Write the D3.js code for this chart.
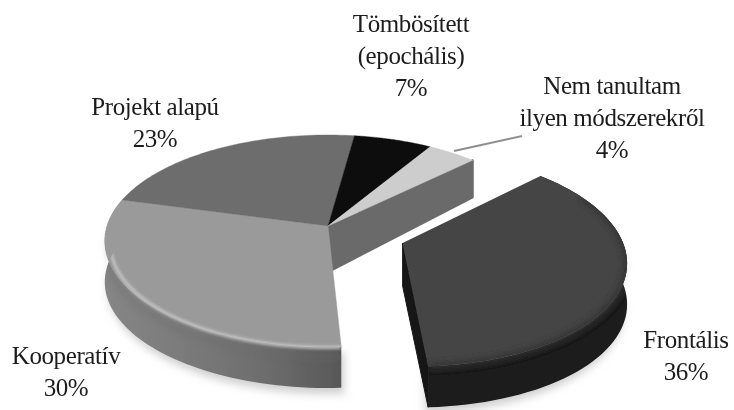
<!DOCTYPE html>
<html><head><meta charset="utf-8">
<script src="https://cdn.jsdelivr.net/npm/d3@7"></script>
<style>html,body{margin:0;padding:0;background:#fff}svg{display:block}text{font-family:"Liberation Serif",serif;font-size:25px;letter-spacing:-0.4px;fill:#1c1c1c;text-anchor:middle}</style>
</head><body><svg id="c" width="734" height="410"></svg>
<script>
const categories=["Frontális","Kooperatív","Projekt alapú","Tömbösített (epochális)","Nem tanultam ilyen módszerekről"];
const values=[36.4,30,23,6.5,4.1];
const topColors=["#454545","#9a9a9a","#6d6d6d","#111111","#cdcdcd"];
const labelLines=[["Frontális","36%"],["Kooperatív","30%"],["Projekt alapú","23%"],["Tömbösített","(epochális)","7%"],["Nem tanultam","ilyen módszerekről","4%"]];
const labelAnchors=[[686,348],[66,364],[155,115],[411,32],[612,94]];
const lineStep=32;

const ox=328,oy=226,Rx=221,Ry=103.9,k=0.1415,depth=41;
const explode=[0.33,0.16],frontScale=0.975;
const svg=d3.select("#c");
const defs=svg.append("defs");
const blur=(id,s)=>defs.append("filter").attr("id",id).attr("x","-20%").attr("y","-20%").attr("width","140%").attr("height","140%").append("feGaussianBlur").attr("stdDeviation",s);
blur("b5",4);blur("b2",1.8);blur("b3",3.2);blur("soft",0.5);
const g=defs.append("linearGradient").attr("id","koopWall").attr("gradientUnits","userSpaceOnUse").attr("x1",105).attr("x2",340).attr("y1",0).attr("y2",0);
[[0,"#868686"],[0.35,"#7a7a7a"],[0.7,"#6c6c6c"],[1,"#585858"]].forEach(s=>g.append("stop").attr("offset",s[0]).attr("stop-color",s[1]));

const startAngle=46*Math.PI/180;
const arcs=d3.pie().sort(null).value(d=>d).startAngle(startAngle).endAngle(startAngle+2*Math.PI)(values);
const proj=(a,r,e,dz=0)=>{const x=r*Math.sin(a)+e[0],y=-r*Math.cos(a)+e[1],w=1-k*y;return [ox+Rx*x/w,oy+Ry*y/w+dz];};
const samples=(a0,a1)=>d3.range(0,61).map(i=>a0+(a1-a0)*i/60);
const line=d3.line();
const arcPts=(a0,a1,e,r=1,dz=0)=>samples(a0,a1).map(a=>proj(a,r,e,dz));
const sector=(d,e,r=1)=>line([proj(0,0,e),...arcPts(d.startAngle,d.endAngle,e,r)])+"Z";
const wall=(a0,a1,e,r=1)=>line([...arcPts(a0,a1,e,r),...arcPts(a0,a1,e,r,depth).reverse()])+"Z";
const root=svg.append("g").attr("filter","url(#soft)");

const e0=[0,0],e1=explode;
const [front,koop,,,nem]=arcs;
root.append("path").attr("d",wall(koop.startAngle,koop.endAngle,e0)).attr("transform","translate(3,6)").attr("fill","#cfcfcf").attr("filter","url(#b5)");
root.append("path").attr("d",wall(front.startAngle,front.endAngle,e1,frontScale)).attr("transform","translate(-3,6)").attr("fill","#cfcfcf").attr("filter","url(#b5)");

const ap=proj(0,0,e0),pn=proj(nem.endAngle,1,e0);
root.append("path").attr("d",line([ap,pn,[pn[0],pn[1]+depth-4],[ap[0]+4,ap[1]+depth+3]])+"Z").attr("fill","#6a6a6a").attr("stroke","#6a6a6a").attr("stroke-width",2).attr("stroke-linejoin","round");

const clipK=defs.append("clipPath").attr("id","clipK");
clipK.append("path").attr("d",wall(koop.startAngle,koop.endAngle,e0));
clipK.append("path").attr("d",sector(koop,e0));
root.append("path").attr("d",wall(koop.startAngle,koop.endAngle,e0)).attr("fill","url(#koopWall)");
root.selectAll("path.top").data(arcs.slice(1)).join("path").attr("class","top").attr("d",d=>sector(d,e0)).attr("fill",(d,i)=>topColors[i+1]).attr("stroke",(d,i)=>topColors[i+1]).attr("stroke-width",0.4);
const kg=root.append("g").attr("clip-path","url(#clipK)");
const hiEnd=koop.endAngle-0.3;
kg.append("path").attr("d",line(arcPts(koop.startAngle,hiEnd,e0,0.99,11))).attr("fill","none").attr("stroke","#6a6a6a").attr("stroke-width",6).attr("opacity",0.35).attr("filter","url(#b3)");
kg.append("path").attr("d",line(arcPts(koop.startAngle,hiEnd,e0,0.975,4))).attr("fill","none").attr("stroke","#c8c8c8").attr("stroke-width",3).attr("filter","url(#b2)");

const fp=proj(0,0,e1),fb=proj(front.endAngle,frontScale,e1);
root.append("path").attr("d",line([fp,fb,[fb[0],fb[1]+depth],[fp[0],fp[1]+depth+2]])+"Z").attr("fill","#171717").attr("stroke","#171717").attr("stroke-linejoin","round");
root.append("path").attr("d",wall(front.startAngle,front.endAngle,e1,frontScale)).attr("fill","#1a1a1a");
const clipF=defs.append("clipPath").attr("id","clipF");
clipF.append("path").attr("d",wall(front.startAngle,front.endAngle,e1,frontScale));
clipF.append("path").attr("d",sector(front,e1,frontScale));
root.append("path").attr("d",sector(front,e1,frontScale)).attr("fill",topColors[0]);
root.append("g").attr("clip-path","url(#clipF)").append("path").attr("d",line(arcPts(front.startAngle+0.3,front.endAngle,e1,frontScale,0))).attr("fill","none").attr("stroke","#303030").attr("stroke-width",6).attr("filter","url(#b3)");

const lnA=[454,151],lnB=[522,136];
svg.append("path").attr("d",line([lnA,lnB])).attr("stroke","#8e8e8e").attr("stroke-width",2).attr("fill","none");

labelLines.forEach((ls,i)=>{ls.forEach((t,j)=>{svg.append("text").attr("x",labelAnchors[i][0]).attr("y",labelAnchors[i][1]+j*lineStep).text(t);});});
</script></body></html>
